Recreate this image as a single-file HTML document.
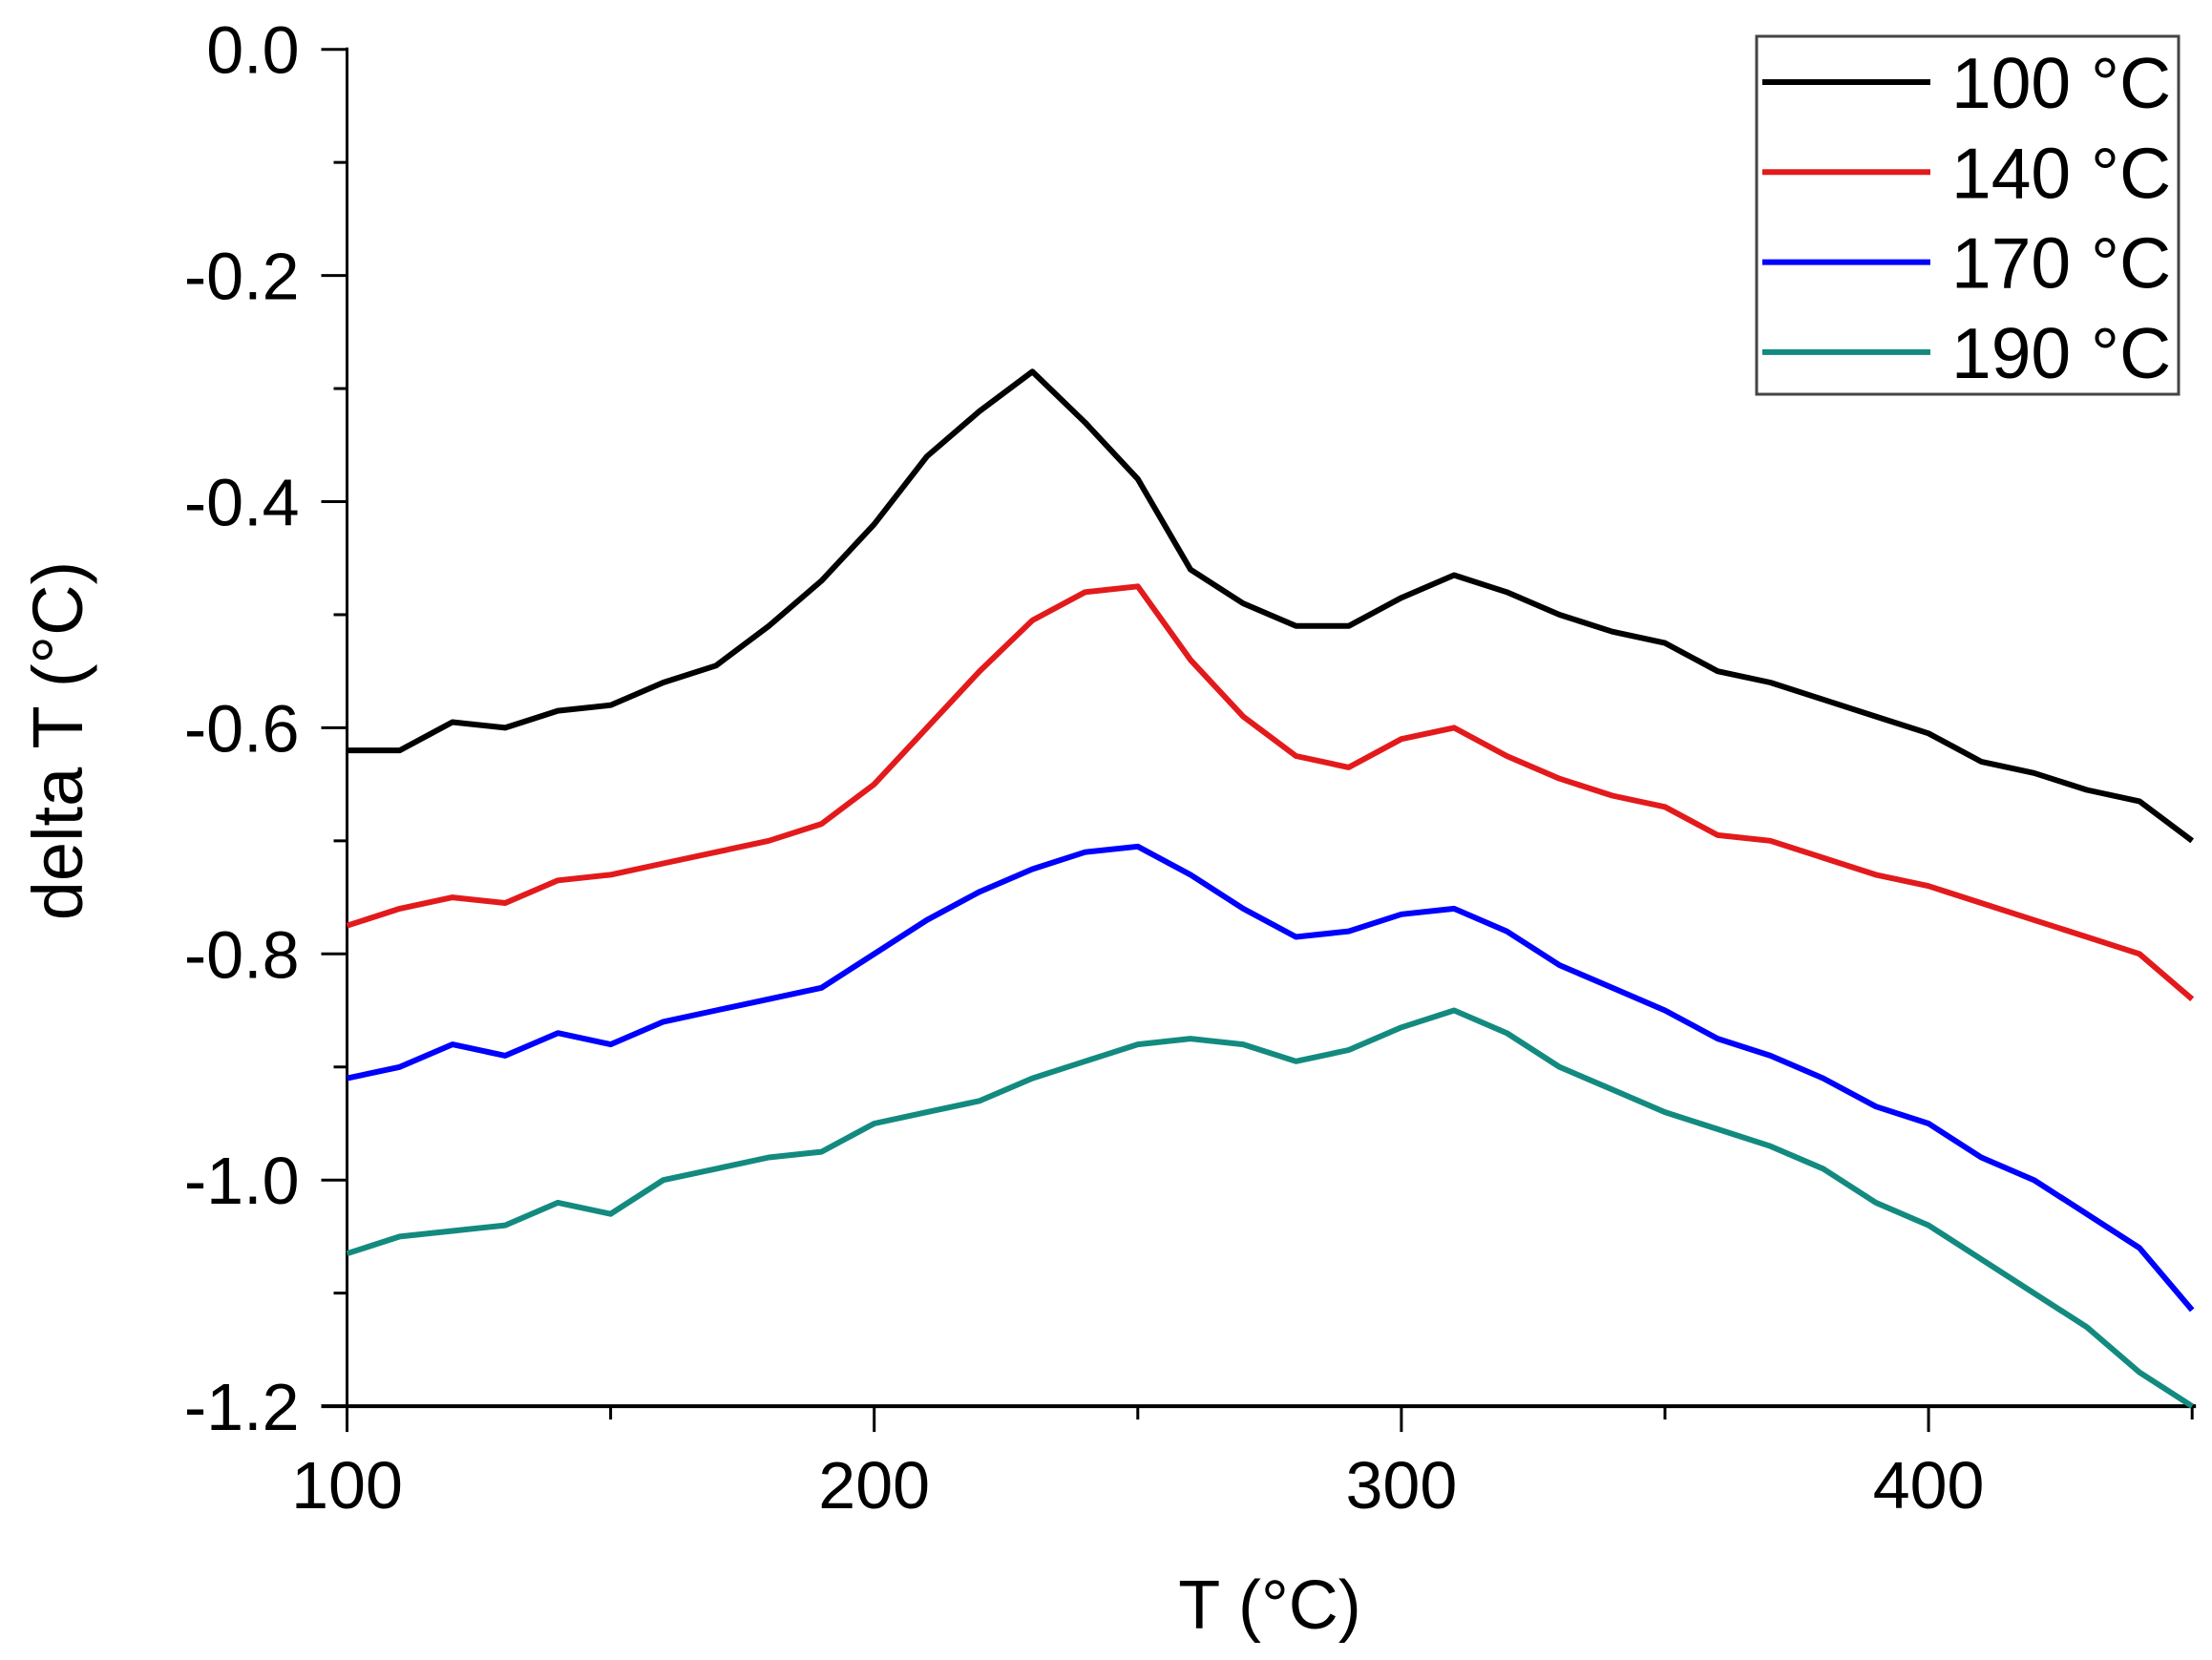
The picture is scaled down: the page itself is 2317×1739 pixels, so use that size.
<!DOCTYPE html>
<html><head><meta charset="utf-8"><style>
html,body{margin:0;padding:0;background:#fff;}
svg{display:block;font-family:"Liberation Sans",Arial,sans-serif;}
</style></head><body>
<svg id="chart" width="2317" height="1739" viewBox="0 0 2317 1739" xmlns="http://www.w3.org/2000/svg">
<rect width="2317" height="1739" fill="#fff"/>
<g id="axes"></g>
<g id="series"></g>
<text x="1330" y="1706" font-size="72" text-anchor="middle">T (°C)</text>
<text transform="translate(86,776) rotate(-90)" font-size="74" text-anchor="middle">delta T (°C)</text>
<g id="legend">
<rect x="1840" y="38" width="442" height="375" fill="#fff" stroke="#444" stroke-width="3"/>
</g>
</svg>
<script>
const xs = [100,110,120,130,140,150,160,170,180,190,200,210,220,230,240,250,260,270,280,290,300,310,320,330,340,350,360,370,380,390,400,410,420,430,440,450];
const s100 = [-0.62,-0.62,-0.595,-0.6,-0.585,-0.58,-0.56,-0.545,-0.51,-0.47,-0.42,-0.36,-0.32,-0.285,-0.33,-0.38,-0.46,-0.49,-0.51,-0.51,-0.485,-0.465,-0.48,-0.5,-0.515,-0.525,-0.55,-0.56,-0.575,-0.59,-0.605,-0.63,-0.64,-0.655,-0.665,-0.70];
const s140 = [-0.775,-0.76,-0.75,-0.755,-0.735,-0.73,-0.72,-0.71,-0.70,-0.685,-0.65,-0.60,-0.55,-0.505,-0.48,-0.475,-0.54,-0.59,-0.625,-0.635,-0.61,-0.60,-0.625,-0.645,-0.66,-0.67,-0.695,-0.70,-0.715,-0.73,-0.74,-0.755,-0.77,-0.785,-0.80,-0.84];
const s170 = [-0.91,-0.90,-0.88,-0.89,-0.87,-0.88,-0.86,-0.85,-0.84,-0.83,-0.80,-0.77,-0.745,-0.725,-0.71,-0.705,-0.73,-0.76,-0.785,-0.78,-0.765,-0.76,-0.78,-0.81,-0.83,-0.85,-0.875,-0.89,-0.91,-0.935,-0.95,-0.98,-1.00,-1.03,-1.06,-1.115];
const s190 = [-1.065,-1.05,-1.045,-1.04,-1.02,-1.03,-1.0,-0.99,-0.98,-0.975,-0.95,-0.94,-0.93,-0.91,-0.895,-0.88,-0.875,-0.88,-0.895,-0.885,-0.865,-0.85,-0.87,-0.90,-0.92,-0.94,-0.955,-0.97,-0.99,-1.02,-1.04,-1.07,-1.10,-1.13,-1.17,-1.2];
const seriesNames = ["100 °C","140 °C","170 °C","190 °C"];
const seriesColors = ["#000000","#e31a1c","#0000ff","#138a7f"];
const xTicks = [100,200,300,400];
const xMinor = [150,250,350,450];
const yTicks = [0,-0.2,-0.4,-0.6,-0.8,-1.0,-1.2];
const yTickLabels = ["0.0","-0.2","-0.4","-0.6","-0.8","-1.0","-1.2"];
const yMinor = [-0.1,-0.3,-0.5,-0.7,-0.9,-1.1];

const NS = "http://www.w3.org/2000/svg";
const X = v => 363.5 + (v - 100) * 5.522;
const Y = v => 51.7 + (-v) / 0.2 * 236.9;
function mk(tag, attrs, parent){const e=document.createElementNS(NS,tag);for(const k in attrs)e.setAttribute(k,attrs[k]);parent.appendChild(e);return e;}
const axes = document.getElementById('axes');
const yl = mk('line',{x1:X(100),y1:Y(0)-2,x2:X(100),y2:Y(-1.2),stroke:'#000','stroke-width':3},axes);


const xl = mk('line',{x1:X(100)-27,y1:Y(-1.2),x2:X(450)+4,y2:Y(-1.2),stroke:'#000','stroke-width':4},axes);


yTicks.forEach((v,i)=>{
  const t = mk('line',{x1:X(100)-27,y1:Y(v),x2:X(100),y2:Y(v),stroke:'#000','stroke-width':3},axes);
  
  
  const l = mk('text',{x:X(100)-50,y:Y(v)+25,'font-size':70,'text-anchor':'end'},axes);
  l.textContent = yTickLabels[i];
  
  
});
yMinor.forEach(v=>{
  const t = mk('line',{x1:X(100)-14,y1:Y(v),x2:X(100),y2:Y(v),stroke:'#000','stroke-width':3},axes);
  
  
});
xTicks.forEach(v=>{
  const t = mk('line',{x1:X(v),y1:Y(-1.2),x2:X(v),y2:Y(-1.2)+27,stroke:'#000','stroke-width':3},axes);
  
  
  const l = mk('text',{x:X(v),y:1580,'font-size':70,'text-anchor':'middle'},axes);
  l.textContent = String(v);
  
  
});
xMinor.forEach(v=>{
  const t = mk('line',{x1:X(v),y1:Y(-1.2),x2:X(v),y2:Y(-1.2)+14,stroke:'#000','stroke-width':3},axes);
  
  
});
const sg = document.getElementById('series');
const allSeries = [s100,s140,s170,s190];
allSeries.forEach((s,i)=>{
  const d = s.map((v,j)=>(j?'L':'M')+X(xs[j]).toFixed(1)+','+Y(v).toFixed(1)).join(' ');
  const p = mk('path',{d:d,fill:'none',stroke:seriesColors[i],'stroke-width':6,'stroke-linejoin':'round'},sg);
  
  
});
const lg = document.getElementById('legend');
seriesNames.forEach((n,i)=>{
  const y = 86 + i*94.3;
  const l = mk('line',{x1:1846,y1:y,x2:2022,y2:y,stroke:seriesColors[i],'stroke-width':6},lg);
  
  
  const t = mk('text',{x:2044,y:y+27,'font-size':75},lg);
  t.textContent = n;
  
  
});
</script>
</body></html>
